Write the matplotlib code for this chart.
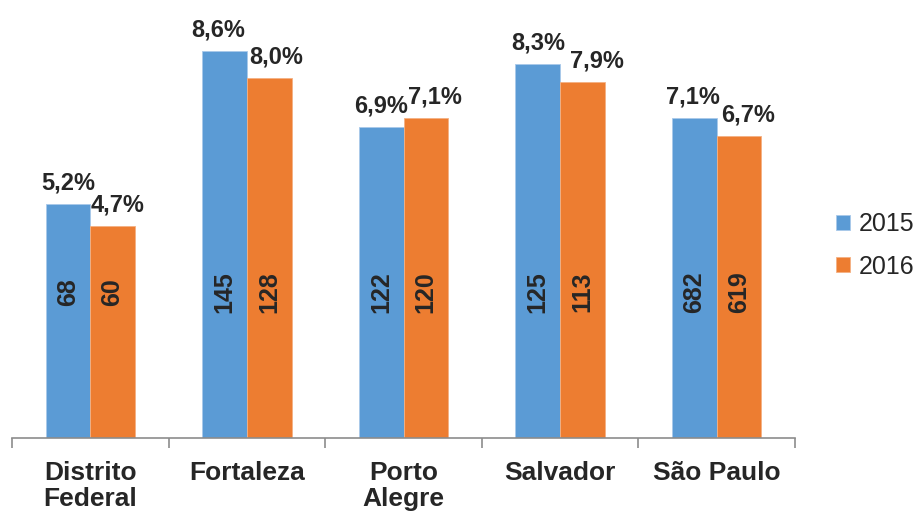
import numpy as np
import matplotlib.pyplot as plt

plt.rcParams['font.family'] = ['Liberation Sans', 'DejaVu Sans']

cities = ["Distrito\nFederal", "Fortaleza", "Porto\nAlegre", "Salvador", "São Paulo"]
rate_2015 = [5.2, 8.6, 6.9, 8.3, 7.1]
rate_2016 = [4.7, 8.0, 7.1, 7.9, 6.7]
count_2015 = [68, 145, 122, 125, 682]
count_2016 = [60, 128, 120, 113, 619]

blue = '#5B9BD5'
orange = '#ED7D31'
txt = '#262626'

# horizontal nudges (pixels) of the % labels, as in the original layout
shift_2015 = [0, -6, 0, 0, -1]
shift_2016 = [5, 7, 9, 15, 9]

fig = plt.figure(figsize=(9.19, 5.12), dpi=100)
ax = fig.add_axes([12 / 919, 74 / 512, 783 / 919, 438 / 512])

x = np.arange(len(cities))
w = 0.285
b1 = ax.bar(x - w / 2, rate_2015, w, color=blue, edgecolor='#a9c9ea', linewidth=0.6, label='2015')
b2 = ax.bar(x + w / 2, rate_2016, w, color=orange, edgecolor='#f4b183', linewidth=0.6, label='2016')

for bars, rates, counts, shifts in [(b1, rate_2015, count_2015, shift_2015),
                                    (b2, rate_2016, count_2016, shift_2016)]:
    for bar, r, c, s in zip(bars, rates, counts, shifts):
        cx = bar.get_x() + bar.get_width() / 2
        ax.annotate(f"{r:.1f}%".replace('.', ','), (cx, r), xytext=(s * 0.72, 7),
                    textcoords='offset points', ha='center', va='bottom',
                    fontsize=17, fontweight='bold', color=txt)
        ax.text(cx, 3.25, str(c), rotation=90, ha='center', va='center',
                fontsize=18, fontweight='bold', color=txt)

ax.set_xlim(-0.5, len(cities) - 0.5)
ax.set_ylim(0, 9.73)
ax.set_yticks([])
for s in ['top', 'right', 'left']:
    ax.spines[s].set_visible(False)
ax.spines['bottom'].set_color('#8c8c8c')
ax.spines['bottom'].set_linewidth(1.2)

ax.set_xticks(np.arange(len(cities) + 1) - 0.5)
ax.set_xticklabels([])
ax.tick_params(axis='x', length=7, color='#8c8c8c', width=1.2)
for i, c in enumerate(cities):
    ax.text(i, -0.52, c, ha='center', va='top', fontsize=19, fontweight='bold',
            color=txt, linespacing=1.08)

fig.legend(handles=[b1, b2], loc='upper left', bbox_to_anchor=(836 / 919, 1 - 212 / 512),
           frameon=False, fontsize=18, handlelength=0.55, handleheight=0.55,
           handletextpad=0.35, labelspacing=0.75, labelcolor=txt,
           borderpad=0, borderaxespad=0)

fig.savefig('out.png', dpi=100)
